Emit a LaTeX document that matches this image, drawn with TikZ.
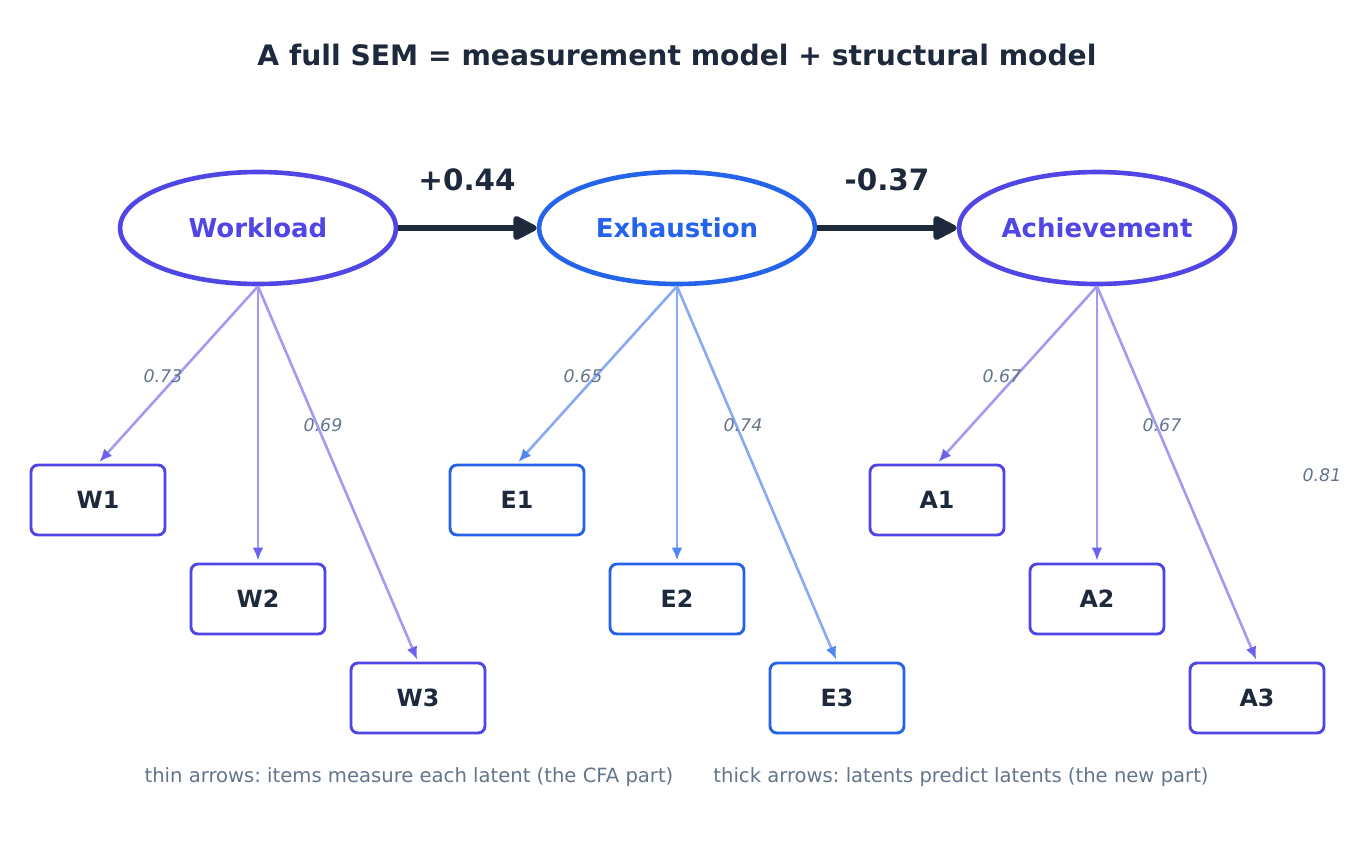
\documentclass[tikz,border=0pt]{standalone}
\usepackage{fontspec}
\setmainfont{DejaVu Sans}
\usetikzlibrary{arrows.meta,shapes.geometric}
\definecolor{indig}{HTML}{4F46E5}
\definecolor{blu}{HTML}{2563EB}
\definecolor{dark}{HTML}{1E293B}
\definecolor{grey}{HTML}{64748B}
\definecolor{indigl}{HTML}{A29BF1}
\definecolor{blul}{HTML}{88A9F3}
\definecolor{indigh}{HTML}{6B63EE}
\definecolor{bluh}{HTML}{5286F0}
\frenchspacing
\tikzset{
  latent/.style={ellipse, draw=#1, line width=4.6pt, minimum width=276pt, minimum height=112pt, inner sep=0pt, text=#1, font=\fontsize{26}{30}\selectfont\bfseries},
  item/.style={draw=#1, line width=2.9pt, rounded corners=7pt, minimum width=134pt, minimum height=70pt, inner sep=0pt, text=dark, font=\fontsize{23.7}{28}\selectfont\bfseries, fill=white},
  load/.style={draw=#1, line width=2.6pt},
  ldlab/.style={text=grey, font=\fontsize{17.4}{20}\selectfont\itshape},
  struct/.style={draw=dark, line width=5.8pt, -{Triangle[length=27pt,width=26pt,round]}},
  coef/.style={text=dark, font=\fontsize{29.4}{34}\selectfont\bfseries},
  note/.style={text=grey, font=\fontsize{19.6}{23}\selectfont}
}
\begin{document}
\begin{tikzpicture}[x=1pt,y=-1pt]
\useasboundingbox (0,0) rectangle (1357,854);
\node[text=dark, font=\fontsize{28.2}{33}\selectfont\bfseries] (title) at (677,55) {A full SEM = measurement model + structural model};

\node[latent=indig] (wl) at (258,228) {Workload};
\node[latent=blu] (ex) at (677,228) {Exhaustion};
\node[latent=indig] (ac) at (1097,228) {Achievement};

\node[item=indig] (w1) at (98,500) {W1};
\node[item=indig] (w2) at (258,599) {W2};
\node[item=indig] (w3) at (418,698) {W3};
\node[item=blu] (e1) at (517,500) {E1};
\node[item=blu] (e2) at (677,599) {E2};
\node[item=blu] (e3) at (837,698) {E3};
\node[item=indig] (a1) at (937,500) {A1};
\node[item=indig] (a2) at (1097,599) {A2};
\node[item=indig] (a3) at (1257,698) {A3};

\foreach \l/\b in {wl/w1,wl/w2,wl/w3,ac/a1,ac/a2,ac/a3}
  \draw[load=indigl, -{Latex[length=13pt,width=11pt,color=indigh]}, shorten >=2pt] (\l.south) -- (\b.north);
\foreach \l/\b in {ex/e1,ex/e2,ex/e3}
  \draw[load=blul, -{Latex[length=13pt,width=11pt,color=bluh]}, shorten >=2pt] (\l.south) -- (\b.north);

\node[ldlab] (l1) at (163,376) {0.73};
\node[ldlab] (l2) at (323,425) {0.69};
\node[ldlab] (l3) at (583,376) {0.65};
\node[ldlab] (l4) at (743,425) {0.74};
\node[ldlab] (l5) at (1002,376) {0.67};
\node[ldlab] (l6) at (1162,425) {0.67};
\node[ldlab] (l7) at (1322,475) {0.81};

\draw[struct] (wl.east) -- (ex.west);
\draw[struct] (ex.east) -- (ac.west);
\node[coef] (c1) at (467,180) {+0.44};
\node[coef] (c2) at (887,180) {-0.37};

\node[note] (n1) at (409,777) {thin arrows: items measure each latent (the CFA part)};
\node[note] (n2) at (961,777) {thick arrows: latents predict latents (the new part)};
\end{tikzpicture}
\end{document}
